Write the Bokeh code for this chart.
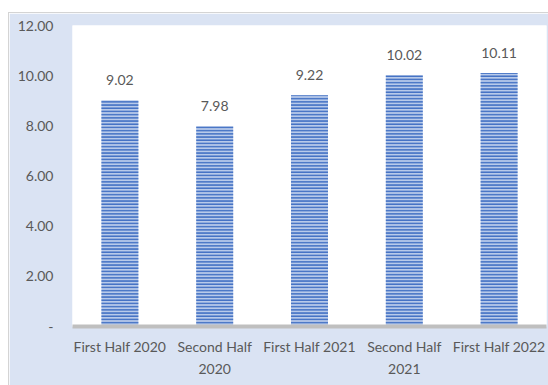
from bokeh.plotting import figure
from bokeh.models import ColumnDataSource, FixedTicker
from bokeh.core.properties import value
from bokeh.embed import file_html
from bokeh.resources import INLINE

categories = ["First Half 2020", "Second Half\n2020", "First Half 2021", "Second Half\n2021", "First Half 2022"]
values = [9.02, 7.98, 9.22, 10.02, 10.11]
value_labels = ["9.02", "7.98", "9.22", "10.02", "10.11"]
y_ticks = [0, 2, 4, 6, 8, 10, 12]
y_tick_labels = ["-", "2.00", "4.00", "6.00", "8.00", "10.00", "12.00"]

BG = "#DAE3F3"
FONT = "Lato"
TXT = "#595959"

src = ColumnDataSource(dict(cat=categories, val=values, lab=value_labels))

p = figure(x_range=categories, y_range=(0, 12), width=540, height=373,
           output_backend="svg", toolbar_location=None,
           background_fill_color="white", border_fill_color=BG,
           min_border_left=63, min_border_right=3, min_border_top=12, min_border_bottom=60)
p.margin = (12, 0, 0, 8)
p.styles = {"border-left": "1px solid #D4D4D4", "border-top": "1px solid #D4D4D4"}
p.outline_line_color = None
p.xgrid.grid_line_color = None
p.ygrid.grid_line_color = None

p.vbar(x="cat", top="val", width=0.39, source=src,
       fill_color="#B8CAEA", line_color=None,
       hatch_pattern="horizontal_line", hatch_color="#4472C4",
       hatch_weight=1.8, hatch_scale=3.2)

p.text(x="cat", y="val", text="lab", source=src,
       text_align="center", text_baseline="bottom", y_offset=-15,
       text_font=value(FONT), text_font_size="14px", text_color=TXT)

p.yaxis.ticker = FixedTicker(ticks=y_ticks)
p.yaxis.major_label_overrides = {t: l for t, l in zip(y_ticks, y_tick_labels)}
p.yaxis.axis_line_color = None
p.yaxis.major_tick_line_color = None
p.yaxis.minor_tick_line_color = None
p.yaxis.major_label_standoff = 13
p.yaxis.major_label_text_font = FONT
p.yaxis.major_label_text_font_size = "14px"
p.yaxis.major_label_text_color = TXT

p.xaxis.axis_line_color = "#BFBFBF"
p.xaxis.axis_line_width = 4
p.xaxis.major_tick_line_color = None
p.xaxis.minor_tick_line_color = None
p.xaxis.major_label_standoff = 5
p.xaxis.major_label_text_font = FONT
p.xaxis.major_label_text_font_size = "14px"
p.xaxis.major_label_text_color = TXT
p.xaxis.major_label_text_line_height = 1.3

open("out.html", "w").write(file_html(p, INLINE))
